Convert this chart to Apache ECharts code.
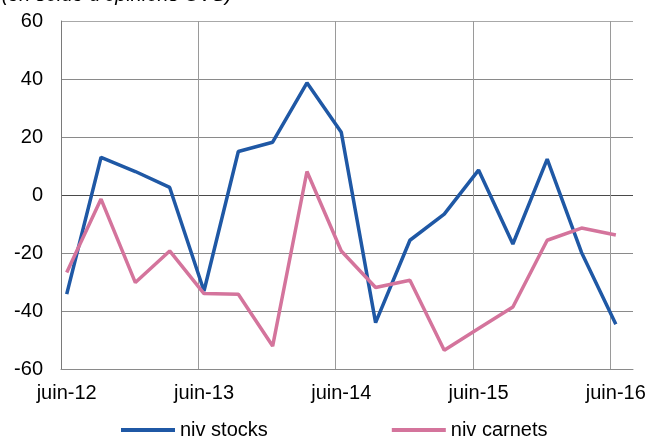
<!DOCTYPE html>
<html><head><meta charset="utf-8">
<script src="https://cdn.jsdelivr.net/npm/echarts@6/dist/echarts.min.js"></script>
<style>html,body{margin:0;padding:0;background:#fff;overflow:hidden}#c{width:651px;height:436px}</style>
</head><body><div id="c"></div>
<script>
const quarters = ['juin-12','sept-12','déc-12','mars-13','juin-13','sept-13','déc-13','mars-14','juin-14','sept-14','déc-14','mars-15','juin-15','sept-15','déc-15','mars-16','juin-16'];
const nivStocks = [-34.2, 13.0, 8.1, 2.6, -33.1, 15.0, 18.2, 38.7, 21.6, -44.0, -15.6, -6.6, 8.6, -16.9, 12.4, -19.8, -44.6];
const nivCarnets = [-26.7, -1.4, -30.2, -19.3, -34.0, -34.2, -52.1, 8.1, -19.3, -31.9, -29.4, -53.5, -46.0, -38.6, -15.6, -11.4, -13.8];
const xTickLabels = ['juin-12','juin-13','juin-14','juin-15','juin-16'];
const seriesNames = ['niv stocks','niv carnets'];
const titleText = "(en solde d'opinions CVS)";

// month-based date axis: each quarter point sits mid-month, 3 months apart
const monthSpan = 50;
const toPoints = vals => vals.map((v, i) => [i * 3 + 0.5, v]);
const FONT = "'Liberation Sans', Arial, sans-serif";

const chart = echarts.init(document.getElementById('c'), null, {renderer: 'canvas'});
chart.setOption({
  animation: false,
  backgroundColor: '#fff',
  textStyle: {fontFamily: FONT},
  graphic: [{
    type: 'text', x: 232, y: -5,
    style: {text: titleText, font: "italic 20px 'Liberation Sans', Arial, sans-serif", fill: '#000', textAlign: 'right', textVerticalAlign: 'middle'}
  }],
  grid: {left: 61, right: 18, top: 21, bottom: 67, containLabel: false},
  xAxis: {
    type: 'value', min: 0, max: monthSpan, interval: 12,
    axisLine: {show: true, onZero: false, lineStyle: {color: '#8a8a8a', width: 1}},
    axisTick: {show: false},
    splitLine: {show: true, lineStyle: {color: ['#9a9a9a','#9a9a9a','#9a9a9a','#9a9a9a','#9a9a9a','rgba(0,0,0,0)'], width: 1}},
    axisLabel: {
      margin: 14, fontSize: 20, color: '#000', fontFamily: FONT,
      padding: [0, 0, 0, 11.4],
      formatter: v => (v % 12 === 0 && xTickLabels[v / 12] !== undefined) ? xTickLabels[v / 12] : ''
    }
  },
  yAxis: {
    type: 'value', min: -60, max: 60, interval: 20,
    axisLine: {show: true, lineStyle: {color: '#7a7a7a', width: 1}},
    axisTick: {show: false},
    splitLine: {show: true, lineStyle: {color: ['#8a8a8a','#8a8a8a','#8a8a8a','#4a4a4a','#8a8a8a','#8a8a8a','#a8a8a8'], width: 1}},
    axisLabel: {margin: 18, fontSize: 20, color: '#000', fontFamily: FONT}
  },
  legend: {
    left: 121, top: 420, itemWidth: 54, itemHeight: 4, itemGap: 124,
    icon: 'rect', padding: 0,
    textStyle: {fontSize: 20, color: '#000', fontFamily: FONT},
    data: seriesNames
  },
  series: [
    {name: seriesNames[0], type: 'line', data: toPoints(nivStocks), symbol: 'none',
     lineStyle: {color: '#1F58A5', width: 3.5}, itemStyle: {color: '#1F58A5'}},
    {name: seriesNames[1], type: 'line', data: toPoints(nivCarnets), symbol: 'none',
     lineStyle: {color: '#D4749C', width: 3.5}, itemStyle: {color: '#D4749C'}}
  ]
});
</script></body></html>
